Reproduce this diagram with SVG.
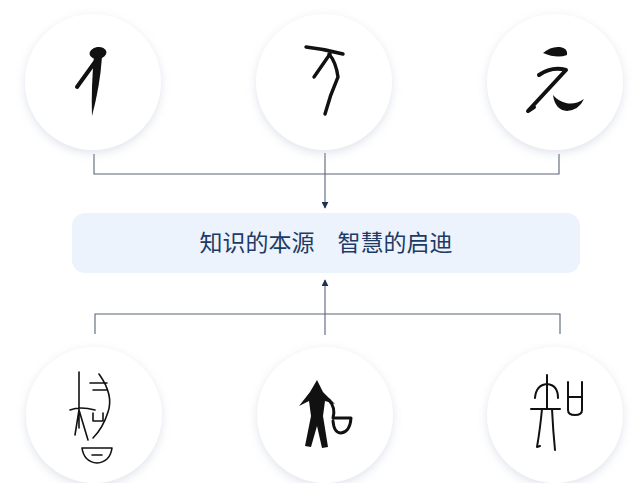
<svg xmlns="http://www.w3.org/2000/svg" width="640" height="483" viewBox="0 0 640 483">
  <defs>
    <filter id="sh" x="-30%" y="-30%" width="160%" height="160%">
      <feDropShadow dx="0" dy="3" stdDeviation="5" flood-color="#b8c2d2" flood-opacity="0.45"/>
    </filter>
    <marker id="ah" viewBox="0 0 10 10" refX="9" refY="5" markerWidth="7" markerHeight="7" orient="auto" markerUnits="userSpaceOnUse">
      <path d="M0,0 L10,5 L0,10 z" fill="#1f3050"/>
    </marker>
    <style>
      .circ { fill: #ffffff; filter: url(#sh); }
      .ln { fill: none; stroke: #5a6478; stroke-width: 1.1; }
      .ink { fill: none; stroke: #111; stroke-linecap: round; stroke-linejoin: round; }
      .inkf { fill: #111; stroke: none; }
      .lbl { font-family: "Noto Sans CJK SC", "Noto Sans", sans-serif; font-size: 23px; fill: #1e3a66; }
    </style>
  </defs>
  <rect width="640" height="483" fill="#ffffff"/>

  <g id="connectors">
    <path class="ln" d="M94,154 V174 H559 V154 M325,153 V174"/>
    <path class="ln" d="M325,174 V208" marker-end="url(#ah)"/>
    <path class="ln" d="M95,334 V314 H560 V334 M325,335 V314"/>
    <path class="ln" d="M325,314 V280" marker-end="url(#ah)"/>
  </g>

  <g id="node-top-1">
    <circle class="circ" cx="93" cy="82" r="68"/>
    <ellipse class="inkf" cx="98" cy="53" rx="8.5" ry="6" transform="rotate(-8 98 53)"/>
    <path class="inkf" d="M94,56 L102,57 Q100,86 92,116 Q91,88 94,56 z"/>
    <path class="ink" stroke-width="4" d="M95,62 L77,87"/>
  </g>

  <g id="node-top-2">
    <circle class="circ" cx="324" cy="82" r="68"/>
    <path class="ink" stroke-width="3.4" d="M306,47 Q325,49 343,54"/>
    <path class="ink" stroke-width="3.4" d="M330,54 L314,77"/>
    <path class="ink" stroke-width="3.4" d="M329,54 Q336,62 338,77 Q330,95 325,114"/>
  </g>

  <g id="node-top-3">
    <circle class="circ" cx="555" cy="82" r="68"/>
    <path class="inkf" d="M543,53 Q551,46 560,47 Q568,48 567,55 Q557,59 543,53 z"/>
    <path class="ink" stroke-width="4" d="M539,75 Q552,66 566,70 L528,111 L534,107"/>
    <path class="inkf" d="M553,95 Q555,110 567,111 Q579,110 584,99 Q575,105 566,103 Q558,101 553,95 z"/>
  </g>

  <g id="node-center">
    <rect x="72" y="213" width="508" height="60" rx="13" fill="#edf3fc"/>
    <text class="lbl" x="326" y="251" text-anchor="middle">知识的本源　智慧的启迪</text>
  </g>

  <g id="node-bottom-1">
    <circle class="circ" cx="94" cy="415" r="68"/>
    <path class="ink" stroke-width="1.6" d="M79,372 V428 M70,410 Q80,406 95,410 M79,410 L75,435 M79,410 L88,440"/>
    <path class="ink" stroke-width="1.6" d="M90,383 H107 M93,390 H107 M99,374 Q114,395 108,412 Q103,428 93,438"/>
    <path class="ink" stroke-width="1.6" d="M93,413 V421 H103 V413"/>
    <path class="ink" stroke-width="1.6" d="M82,448 H112 Q110,462 97,463 Q84,462 82,448 z M92,455 H102"/>
  </g>

  <g id="node-bottom-2">
    <circle class="circ" cx="325" cy="415" r="68"/>
    <path class="inkf" d="M317,380 L323,392 L335,404 L325,401 L323,416 L328,447 L322,448 L317,426 L311,447 L305,446 L311,416 L309,401 L299,406 L310,392 z"/>
    <path class="ink" stroke-width="3" d="M329,400 Q336,408 333,418 H351 Q350,432 341,433 Q334,433 333,421"/>
  </g>

  <g id="node-bottom-3">
    <circle class="circ" cx="555" cy="415" r="68"/>
    <path class="ink" stroke-width="2" d="M547,375 V409 M535,398 Q536,385 547,384 Q558,385 558,398 M531,409 H560 M542,409 Q540,430 537,447 L540,446 M552,409 Q553,430 555,450"/>
    <path class="ink" stroke-width="2" d="M568,382 V410 Q568,415 575,415 Q582,415 582,410 V382 M568,397 H582"/>
  </g>
</svg>
